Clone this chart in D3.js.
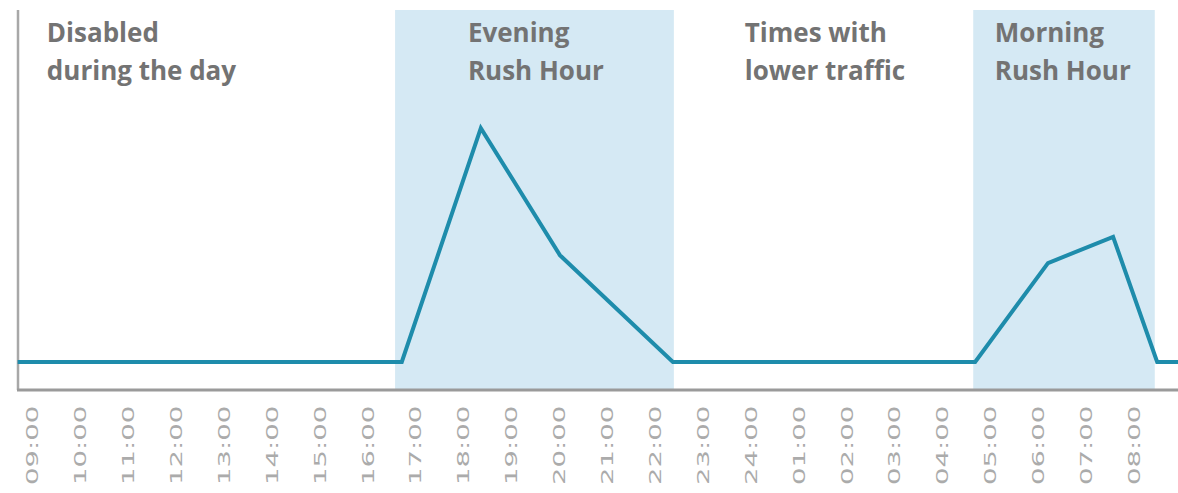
<!DOCTYPE html>
<html>
<head>
<meta charset="utf-8">
<script src="https://cdn.jsdelivr.net/npm/d3@7"></script>
<style>
  html, body { margin: 0; padding: 0; background: #fff; }
  svg { display: block; }
</style>
</head>
<body>
<svg id="chart" width="1178" height="493"></svg>
<script>
// ---- data ----
const tickLabels = ["09:00","10:00","11:00","12:00","13:00","14:00","15:00","16:00",
  "17:00","18:00","19:00","20:00","21:00","22:00","23:00","24:00",
  "01:00","02:00","03:00","04:00","05:00","06:00","07:00","08:00"];
// x in hours after 09:00, y in relative traffic units
const lineHours  = [-0.3, 7.72, 9.37, 11.02, 13.38, 19.69, 21.21, 22.57, 23.49, 23.95];
const lineValues = [7.4,  7.4,  68.9, 35.5,  7.4,   7.4,   33.4,  40.3,  7.4,   7.4];
const bandStarts = [7.58, 19.65];
const bandEnds   = [13.40, 23.44];
const annotationLines = [
  ["Disabled", "during the day"],
  ["Evening", "Rush Hour"],
  ["Times with", "lower traffic"],
  ["Morning", "Rush Hour"]
];
const annotationHours = [0.31, 9.1, 14.88, 20.1];

// ---- layout ----
const W = 1178, H = 493;
const axisX = 18, axisBottom = 390, plotTop = 10;
const svg = d3.select("#chart");

const x = d3.scaleLinear().domain([0, 23]).range([32, 32 + 23 * 47.9]);
const y = d3.scaleLinear().domain([0, 100]).range([axisBottom, plotTop]);

// bands
svg.append("g").selectAll("rect")
  .data(bandStarts.map((s, i) => [s, bandEnds[i]]))
  .join("rect")
  .attr("x", d => x(d[0]))
  .attr("width", d => x(d[1]) - x(d[0]))
  .attr("y", plotTop)
  .attr("height", axisBottom - plotTop)
  .attr("fill", "#d5e9f4");

// axes lines
svg.append("line")
  .attr("x1", axisX).attr("x2", axisX)
  .attr("y1", plotTop).attr("y2", axisBottom)
  .attr("stroke", "#a8a8a8").attr("stroke-width", 2.5);
svg.append("line")
  .attr("x1", axisX - 1).attr("x2", W)
  .attr("y1", axisBottom).attr("y2", axisBottom)
  .attr("stroke", "#9a9a9a").attr("stroke-width", 3);

// x axis labels
const xAxis = d3.axisBottom(x)
  .tickValues(d3.range(tickLabels.length))
  .tickFormat(i => tickLabels[i])
  .tickSize(0);
const gx = svg.append("g").call(xAxis);
gx.select(".domain").remove();
gx.selectAll(".tick line").remove();
gx.selectAll(".tick text")
  .attr("x", 0).attr("y", 0).attr("dy", "0.36em")
  .attr("text-anchor", "start")
  .attr("transform", "translate(0,485) rotate(-90) scale(1.72,1)")
  .attr("font-family", "'DejaVu Sans', sans-serif")
  .attr("font-size", 16)
  .attr("font-weight", "normal")
  .attr("fill", "#ababab");

// line
const line = d3.line()
  .x((d, i) => x(lineHours[i]))
  .y(d => y(d));
svg.append("path")
  .datum(lineValues)
  .attr("d", line)
  .attr("fill", "none")
  .attr("stroke", "#1e8cab")
  .attr("stroke-width", 4)
  .attr("stroke-linejoin", "miter");

// annotations
const ann = svg.append("g")
  .attr("font-family", "'Open Sans', sans-serif")
  .attr("font-weight", "bold")
  .attr("font-size", 26)
  .attr("fill", "#737373");
annotationLines.forEach((lines, i) => {
  const t = ann.append("text");
  lines.forEach((l, j) => {
    t.append("tspan").attr("x", x(annotationHours[i])).attr("y", 42 + j * 38).text(l);
  });
});
</script>
</body>
</html>
